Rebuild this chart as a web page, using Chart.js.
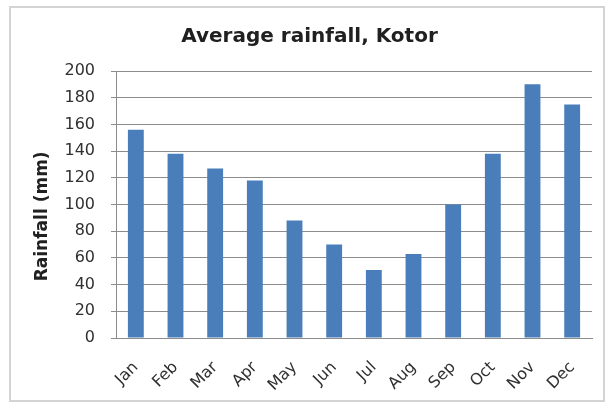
<!DOCTYPE html>
<html lang="en">

<head>
    <meta charset="UTF-8">
    <title>Average rainfall, Kotor</title>
    <script src="https://cdn.jsdelivr.net/npm/chart.js"></script>
    <style>
        body {
            margin: 0;
            background: #ffffff;
            font-family: "DejaVu Sans", sans-serif;
        }

        #frame {
            position: absolute;
            left: 9px;
            top: 6px;
            width: 592px;
            height: 392px;
            border: 2px solid #d4d4d4;
        }

        #chart-box {
            position: absolute;
            left: 0;
            top: 0;
            width: 612px;
            height: 406px;
        }
    </style>
</head>

<body>
    <div id="frame"></div>
    <div id="chart-box">
        <canvas id="rainfall" width="612" height="406"></canvas>
    </div>

    <script>
        // monthly averages
        const months = ['Jan', 'Feb', 'Mar', 'Apr', 'May', 'Jun', 'Jul', 'Aug', 'Sep', 'Oct', 'Nov', 'Dec'];
        const rainfall = [156, 138, 127, 118, 88, 70, 51, 63, 100, 138, 190, 175];
        const yTicks = [0, 20, 40, 60, 80, 100, 120, 140, 160, 180, 200];

        const textColor = '#303030';
        const gridColor = '#8c8c8c';

        new Chart(document.getElementById('rainfall'), {
            type: 'bar',
            data: {
                labels: months,
                datasets: [{
                    label: 'Rainfall (mm)',
                    data: rainfall,
                    backgroundColor: '#4a7ebb',
                    borderWidth: 0,
                    categoryPercentage: 1.0,
                    barPercentage: 0.4
                }]
            },
            options: {
                responsive: false,
                animation: false,
                layout: {
                    padding: { left: 27, right: 20, top: 0, bottom: 6 }
                },
                plugins: {
                    legend: { display: false },
                    tooltip: { enabled: false },
                    title: {
                        display: true,
                        text: 'Average rainfall, Kotor',
                        color: '#202020',
                        font: { family: 'DejaVu Sans', size: 20, weight: 'bold' },
                        padding: { top: 25, bottom: 22 }
                    }
                },
                scales: {
                    x: {
                        grid: { display: false },
                        border: { display: true, color: gridColor, width: 1 },
                        ticks: {
                            color: textColor,
                            font: { family: 'DejaVu Sans', size: 16 },
                            minRotation: 45,
                            maxRotation: 45,
                            padding: 12
                        },
                        afterFit: scale => { scale.height = 62; }
                    },
                    y: {
                        min: 0,
                        max: 200,
                        afterBuildTicks: scale => {
                            scale.ticks = yTicks.map(v => ({ value: v }));
                        },
                        grid: { color: gridColor, lineWidth: 1, tickLength: 5 },
                        border: { display: true, color: gridColor, width: 1 },
                        ticks: {
                            color: textColor,
                            font: { family: 'DejaVu Sans', size: 16 },
                            padding: 16
                        },
                        title: {
                            display: true,
                            // trailing spaces nudge the rotated title down a bit, like the original
                            text: 'Rainfall (mm)    ',
                            color: '#202020',
                            font: { family: 'DejaVu Sans', size: 17, weight: 'bold' },
                            padding: { top: 5, bottom: 4 }
                        },
                        afterFit: scale => { scale.width = 89; }
                    }
                }
            }
        });
    </script>
</body>

</html>
